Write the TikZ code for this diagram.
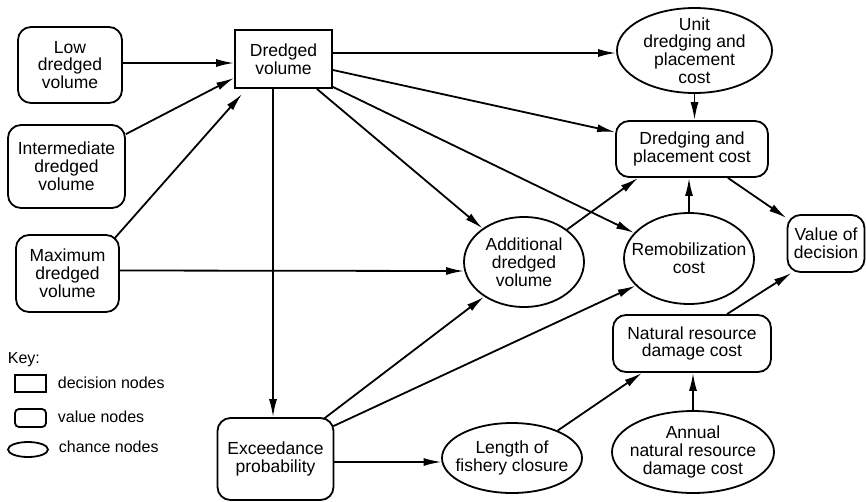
\documentclass[tikz,border=0pt]{standalone}
\usepackage{fontspec}
\setmainfont{Liberation Sans}
\usetikzlibrary{shapes.geometric,arrows.meta,calc}
\begin{document}
\begin{tikzpicture}[x=1pt,y=-1pt,
  every node/.style={font=\fontsize{17.5}{17.8}\selectfont, align=center, inner sep=0pt, line width=1.8pt},
  valnode/.style={draw, rectangle, rounded corners=13pt},
  decnode/.style={draw, rectangle},
  chnode/.style={draw, ellipse},
  txt/.style={},
  arr/.style={line width=1.8pt, -{Latex[length=18pt,width=8pt]}},
  keytext/.style={font=\fontsize{16}{16}\selectfont, anchor=west}]
\useasboundingbox (0,0) rectangle (866,501);

% decision / value nodes
\node[valnode, minimum width=104, minimum height=76] (low) at (70,65) {Low\\dredged\\volume};
\node[valnode, minimum width=117, minimum height=83] (int) at (66.5,166.5) {Intermediate\\dredged\\volume};
\node[valnode, minimum width=103, minimum height=77] (max) at (67.5,273.5) {Maximum\\dredged\\volume};
\node[decnode, minimum width=97, minimum height=58] (dv) at (283.5,59) {Dredged\\volume};
\node[valnode, minimum width=152, minimum height=56] (dpc) at (692,149) {Dredging and\\placement cost};
\node[valnode, minimum width=77, minimum height=57] (val) at (826,243.5) {Value of\\decision};
\node[valnode, minimum width=158, minimum height=57] (nrd) at (692,343.5) {Natural resource\\damage cost};
\node[valnode, minimum width=116, minimum height=82] (exc) at (275.5,459) {Exceedance\\probability};

% chance nodes
\node[chnode, minimum width=155, minimum height=85] (unit) at (694.5,50.5) {};
\node[txt] (unitT) at (unit) {Unit\\dredging and\\placement\\cost};
\node[chnode, minimum width=120, minimum height=90] (add) at (524,262) {};
\node[txt] (addT) at (add) {Additional\\dredged\\volume};
\node[chnode, minimum width=130, minimum height=91] (rem) at (689,258.5) {};
\node[txt] (remT) at (rem) {Remobilization\\cost};
\node[chnode, minimum width=162, minimum height=82] (ann) at (693,452) {};
\node[txt] (annT) at (ann) {Annual\\natural resource\\damage cost};
\node[chnode, minimum width=140, minimum height=70] (len) at (512,458) {};
\node[txt] (lenT) at (len) {Length of\\fishery closure};

% connectors
\draw[arr] ($(low.east)+(0,-2)$) -- ($(dv.west)+(0,4)$);
\draw[arr] ($(int.north east)+(0,10)$) -- ($(dv.south west)+(0,-11)$);
\draw[arr] ($(max.north east)+(-6,5)$) -- ($(dv.south west)+(8,5)$);
\draw[arr] ($(max.east)+(0,-3)$) -- ($(add.west)+(1,9)$);
\draw[arr] ($(dv.east)+(0,-6)$) -- ($(unit.west)+(0,2.5)$);
\draw[arr] ($(dv.east)+(0,11)$) -- ($(dpc.north west)+(0,12)$);
\draw[arr] ($(dv.south east)+(0,-2)$) -- (rem.155);
\draw[arr] ($(dv.south east)+(-16,0)$) -- (add.141);
\draw[arr] ($(dv.south)+(-10.5,0)$) -- ($(exc.north)+(-2.5,0)$);
\draw[arr] (unit.south) -- (unit.south |- dpc.north);
\draw[arr] (add.37) -- ($(dpc.south west)+(23,0)$);
\draw[arr] (rem.north) -- (rem.north |- dpc.south);
\draw[arr] ($(dpc.south east)+(-41,0)$) -- ($(val.north west)+(0,4)$);
\draw[arr] ($(nrd.north)+(35,0)$) -- ($(val.south west)+(5,0)$);
\draw[arr] ($(exc.north east)+(-11,2)$) -- (add.221);
\draw[arr] ($(exc.north east)+(-1,9)$) -- (rem.207);
\draw[arr] ($(exc.east)+(0,3)$) -- ($(len.west)+(0.5,4)$);
\draw[arr] (len.31) -- ($(nrd.south west)+(30,0)$);
\draw[arr] (ann.north) -- (ann.north |- nrd.south);

% key
\node[keytext] (key) at (7,360) {Key:};
\node[decnode, minimum width=31, minimum height=17] (kdec) at (30.5,383.5) {};
\node[keytext] (kdecT) at (57,383) {decision nodes};
\node[draw, rectangle, rounded corners=4pt, minimum width=31, minimum height=18] (kval) at (30.5,418) {};
\node[keytext] (kvalT) at (57,417) {value nodes};
\node[chnode, minimum width=40, minimum height=15] (kch) at (28,449.5) {};
\node[keytext] (kchT) at (58,447) {chance nodes};
\end{tikzpicture}
\end{document}
